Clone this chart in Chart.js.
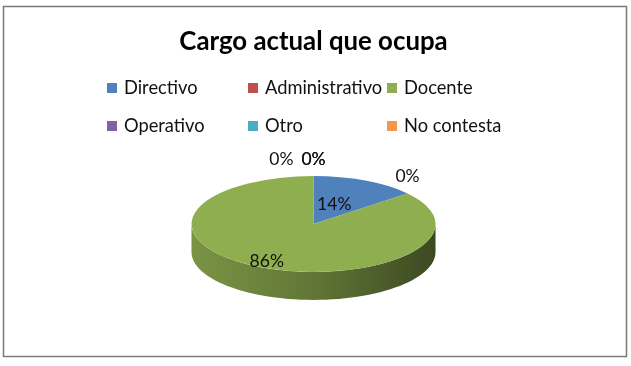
<!DOCTYPE html>
<html>
<head>
<meta charset="utf-8">
<script src="https://cdn.jsdelivr.net/npm/chart.js@4/dist/chart.umd.min.js"></script>
<style>
  body { margin: 0; background: #fff; }
  canvas { display: block; }
</style>
</head>
<body>
<canvas id="cargoChart" width="631" height="366"></canvas>
<script>
  // data
  const categories = ["Directivo", "Administrativo", "Docente", "Operativo", "Otro", "No contesta"];
  const percentages = [14, 0, 86, 0, 0, 0];
  const sliceColors = ["#4F81BD", "#C0504D", "#8FAE50", "#8064A2", "#4BACC6", "#F79646"];
  const chartTitle = "Cargo actual que ocupa";

  const fontFamily = "Lato, 'Open Sans', sans-serif";
  const tilt = 0.393; // vertical squash of the pie
  const depth = 28;   // height of the pie side

  function shade(hex, f) {
    const n = parseInt(hex.slice(1), 16);
    const r = Math.round(((n >> 16) & 255) * f);
    const g = Math.round(((n >> 8) & 255) * f);
    const b = Math.round((n & 255) * f);
    return "rgb(" + r + "," + g + "," + b + ")";
  }

  // squash the pie and draw its side first
  const tiltPlugin = {
    id: "tilt",
    beforeDatasetsDraw(chart) {
      const ctx = chart.ctx;
      const arcs = chart.getDatasetMeta(0).data;
      if (!arcs.length) return;
      const cx = arcs[0].x, cy = arcs[0].y, R = arcs[0].outerRadius;

      arcs.forEach((arc, i) => {
        const a = Math.max(arc.startAngle, 0);
        const b = Math.min(arc.endAngle, Math.PI);
        if (b <= a) return;
        const grad = ctx.createLinearGradient(cx - R, 0, cx + R, 0);
        grad.addColorStop(0, shade(sliceColors[i], 0.85));
        grad.addColorStop(0.5, shade(sliceColors[i], 0.68));
        grad.addColorStop(1, shade(sliceColors[i], 0.42));
        ctx.beginPath();
        const steps = 60;
        for (let s = 0; s <= steps; s++) {
          const t = a + (b - a) * s / steps;
          const x = cx + R * Math.cos(t), y = cy + R * tilt * Math.sin(t);
          if (s === 0) ctx.moveTo(x, y); else ctx.lineTo(x, y);
        }
        for (let s = steps; s >= 0; s--) {
          const t = a + (b - a) * s / steps;
          ctx.lineTo(cx + R * Math.cos(t), cy + R * tilt * Math.sin(t) + depth);
        }
        ctx.closePath();
        ctx.fillStyle = grad;
        ctx.fill();
      });

      ctx.save();
      ctx.translate(cx, cy);
      ctx.scale(1, tilt);
      ctx.translate(-cx, -cy);
    },
    afterDatasetsDraw(chart) {
      chart.ctx.restore();
    }
  };

  // percentage labels
  const labelPlugin = {
    id: "pctLabels",
    afterDatasetsDraw(chart) {
      const ctx = chart.ctx;
      const arcs = chart.getDatasetMeta(0).data;
      if (!arcs.length) return;
      const cx = arcs[0].x, cy = arcs[0].y, R = arcs[0].outerRadius;
      ctx.save();
      ctx.font = "17.5px " + fontFamily;
      ctx.fillStyle = "#111";
      ctx.textAlign = "center";
      ctx.textBaseline = "middle";
      const groups = {};
      arcs.forEach((arc, i) => {
        const text = percentages[i] + "%";
        if (percentages[i] > 0) {
          const mid = (arc.startAngle + arc.endAngle) / 2;
          const f = percentages[i] > 50 ? 0.9 : 0.4;
          ctx.fillText(text, cx + R * f * Math.cos(mid), cy + R * tilt * f * Math.sin(mid) - 2);
        } else {
          const key = arc.startAngle.toFixed(3);
          (groups[key] = groups[key] || []).push(arc);
        }
      });
      Object.values(groups).forEach(list => {
        const t = list[0].startAngle;
        const x = cx + R * Math.cos(t), y = cy + R * tilt * Math.sin(t) - 17;
        list.forEach((arc, j) => {
          const w = ctx.measureText("0%").width;
          const dx = (list.length > 1 && j === 0) ? -(w + 8) : 0;
          ctx.fillText("0%", x + dx, y);
        });
      });
      ctx.restore();
    }
  };

  // legend grid and frame
  const framePlugin = {
    id: "frame",
    afterDraw(chart) {
      const ctx = chart.ctx;
      ctx.save();
      ctx.strokeStyle = "#7a7a7a";
      ctx.lineWidth = 1.5;
      ctx.strokeRect(3.5, 6.5, 623, 350);

      const colX = [107, 248, 387];
      const rowY = [88, 126];
      ctx.font = "18.3px " + fontFamily;
      ctx.textBaseline = "middle";
      categories.forEach((c, i) => {
        const x = colX[i % 3], y = rowY[Math.floor(i / 3)];
        ctx.fillStyle = sliceColors[i];
        ctx.fillRect(x, y - 5, 10, 10);
        ctx.fillStyle = "#111";
        ctx.fillText(c, x + 17, y);
      });
      ctx.restore();
    }
  };

  new Chart(document.getElementById("cargoChart"), {
    type: "pie",
    data: {
      labels: categories,
      datasets: [
        {
          data: percentages,
          backgroundColor: sliceColors,
          borderWidth: 0,
          hoverOffset: 0,
        },
      ],
    },
    options: {
      responsive: false,
      animation: false,
      layout: {
        padding: { left: 0, right: 4, top: 0, bottom: 20 },
      },
      plugins: {
        legend: { display: false },
        tooltip: { enabled: false },
        title: {
          display: true,
          text: chartTitle,
          color: "#000",
          font: { family: fontFamily, size: 25.8, weight: "bold" },
          padding: { top: 26.5, bottom: 44.5 },
        },
      },
    },
    plugins: [tiltPlugin, labelPlugin, framePlugin],
  });
</script>
</body>
</html>
